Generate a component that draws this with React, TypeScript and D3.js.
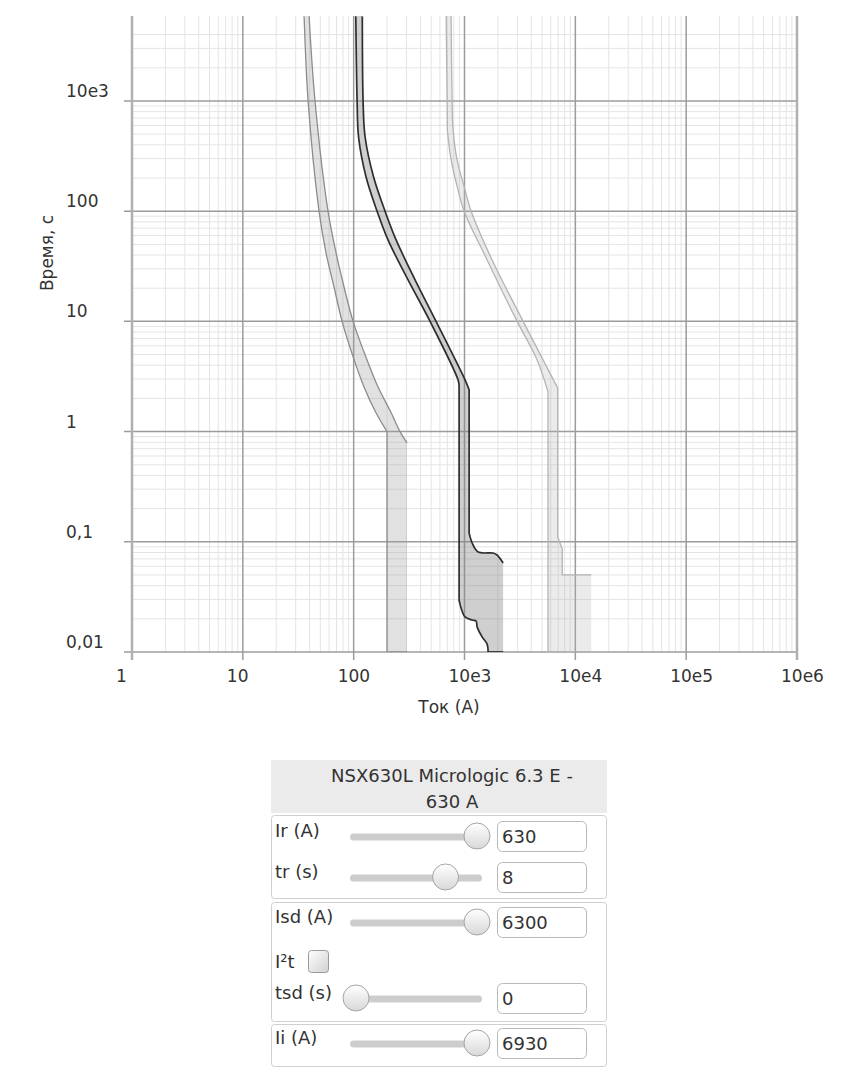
import * as d3 from "d3";

// axis ticks
const xTicks = [1, 10, 100, 1000, 10000, 100000, 1000000];
const xTickLabels = ["1", "10", "100", "10e3", "10e4", "10e5", "10e6"];
const yTicks = [0.01, 0.1, 1, 10, 100, 1000];
const yTickLabels = ["0,01", "0,1", "1", "10", "100", "10e3"];
const yTop = 5900;
const yMinorTop = 4000;

// band 1 (light curve, left)
const b1MinI = [35.7, 38.8, 48.7, 56.3, 66.5, 78.6, 101, 124, 159, 200, 200];
const b1MinT = [5900, 1000, 100, 41.8, 20.5, 10, 4.47, 2.54, 1.48, 1, 0.01];
const b1MaxI = [39.6, 44.8, 58.7, 69.4, 81.9, 98.8, 132, 166, 218, 262, 303];
const b1MaxT = [5900, 1000, 100, 41.8, 20.5, 10, 4.47, 2.54, 1.48, 1, 0.79];

// band 2 (dark curve, middle)
const b2MinI = [104.5, 107.4, 110.7, 129.4, 162.6, 204, 309.7, 489, 875, 894, 894, 931, 1012, 1172, 1273, 1300, 1442, 1600, 1633];
const b2MinT = [5900, 1000, 471, 204, 100, 54.8, 23.8, 10, 2.94, 2.59, 0.0296, 0.0251, 0.0208, 0.0195, 0.0191, 0.0169, 0.0137, 0.0118, 0.01];
const b2MaxI = [119.7, 121.6, 126.8, 151.3, 191.9, 241.5, 358, 554, 1012, 1101, 1101, 1172, 1327, 1811, 1968, 2230];
const b2MaxT = [5900, 1000, 471, 204, 100, 54.8, 23.8, 10, 2.94, 2.39, 0.12, 0.0975, 0.0807, 0.0791, 0.0759, 0.0643];

// band 3 (pale curve, right)
const b3MinI = [683, 697, 700, 757, 875, 991, 1600, 2985, 4520, 5670, 5670];
const b3MinT = [5900, 1000, 546, 292, 156, 100, 36.1, 10, 4.47, 2.29, 0.01];
const b3MaxI = [757, 773, 789, 857, 1012, 1148, 1775, 3381, 5117, 6930, 6930, 7620, 7620, 13900];
const b3MaxT = [5900, 1000, 546, 292, 156, 100, 36.1, 10, 4.47, 2.49, 0.111, 0.086, 0.05, 0.05];

// settings panel
const deviceTitle = ["NSX630L Micrologic 6.3 E -", "630 A"];
const ctlLabels = ["Ir (A)", "tr (s)", "Isd (A)", "tsd (s)", "Ii (A)"];
const ctlValues = ["630", "8", "6300", "0", "6930"];
const ctlKnob = [1, 0.74, 1, 0, 1];

const FONT = "'DejaVu Sans', Verdana, sans-serif";
const plot = { left: 132, right: 797, top: 16, bottom: 652 };

const x = d3.scaleLog().domain([1, 1e6]).range([plot.left, plot.right]);
const y = d3.scaleLog().domain([0.01, yTop]).range([plot.bottom, plot.top]);

const xMinor = xTicks.slice(0, -1).flatMap((d) => d3.range(2, 10).map((k) => d * k));
const yMinor = yTicks.flatMap((d) => d3.range(2, 10).map((k) => d * k)).filter((v) => v <= yMinorTop);

type Pt = [number, number];
const smooth = d3.line<Pt>().curve(d3.curveCatmullRom.alpha(0.5));

const toPts = (I: number[], T: number[]): Pt[] => I.map((v, i) => [x(v), y(T[i])]);

// straight for vertical / horizontal pieces, smooth for the rest
function pathOf(pts: Pt[], start = "M"): string {
  let d = `${start}${pts[0][0]},${pts[0][1]}`;
  let run: Pt[] = [pts[0]];
  const flush = () => {
    if (run.length > 1) d += (smooth(run) ?? "").replace(/^M[^CL]*/, "");
  };
  for (let i = 1; i < pts.length; i++) {
    const a = pts[i - 1], b = pts[i];
    if (Math.abs(a[0] - b[0]) < 0.5 || Math.abs(a[1] - b[1]) < 0.5) {
      flush();
      d += `L${b[0]},${b[1]}`;
      run = [b];
    } else run.push(b);
  }
  flush();
  return d;
}

const bands = [
  { minI: b1MinI, minT: b1MinT, maxI: b1MaxI, maxT: b1MaxT, stroke: "#8c8c8c", width: 1.3, fill: "#9a9a9a", op: 0.3 },
  { minI: b2MinI, minT: b2MinT, maxI: b2MaxI, maxT: b2MaxT, stroke: "#2e2e2e", width: 1.7, fill: "#808080", op: 0.38 },
  { minI: b3MinI, minT: b3MinT, maxI: b3MaxI, maxT: b3MaxT, stroke: "#b4b4b4", width: 1.3, fill: "#b0b0b0", op: 0.25 },
];

function Band({ b }: { b: (typeof bands)[number] }) {
  const lo = toPts(b.minI, b.minT);
  const hi = toPts(b.maxI, b.maxT);
  const hiEnd = hi[hi.length - 1];
  const hiFull: Pt[] = [...hi, [hiEnd[0], y(0.01)]];
  const fillD = pathOf(lo) + pathOf([...hiFull].reverse(), "L") + "Z";
  const loEnd = lo[lo.length - 1];
  return (
    <g>
      <path d={fillD} fill={b.fill} fillOpacity={b.op} stroke="none" />
      <path d={pathOf(lo)} fill="none" stroke={b.stroke} strokeWidth={b.width} />
      <path d={pathOf(hi)} fill="none" stroke={b.stroke} strokeWidth={b.width} />
      <line x1={loEnd[0]} x2={hiEnd[0]} y1={y(0.01)} y2={y(0.01)} stroke={b.stroke} strokeWidth={b.width} />
    </g>
  );
}

function Panel() {
  const left = 271, right = 607;
  const rowY = [836, 877, 922, 998, 1043];
  const knob = d3.scaleLinear().domain([0, 1]).range([356, 477]);
  const groups = [
    [815, 898],
    [902, 1021],
    [1024, 1066],
  ];
  return (
    <g fontFamily={FONT} fontSize={18} fill="#333">
      <defs>
        <linearGradient id="knobGrad" x1="0" y1="0" x2="0" y2="1">
          <stop offset="0" stopColor="#ffffff" />
          <stop offset="1" stopColor="#d8d8d8" />
        </linearGradient>
        <linearGradient id="cbGrad" x1="0" y1="0" x2="1" y2="1">
          <stop offset="0" stopColor="#ffffff" />
          <stop offset="1" stopColor="#d0d0d0" />
        </linearGradient>
      </defs>
      <rect x={left} y={760} width={right - left} height={53} fill="#ebebeb" />
      {deviceTitle.map((t, i) => (
        <text key={t} x={452} y={782 + i * 26} textAnchor="middle">{t}</text>
      ))}
      {groups.map(([a, b]) => (
        <rect key={a} x={left + 0.5} y={a + 0.5} width={right - left - 1} height={b - a} rx={3} fill="#fff" stroke="#cfcfcf" />
      ))}
      {ctlLabels.map((lab, i) => {
        const cy = rowY[i];
        return (
          <g key={lab}>
            <text x={275} y={cy + 1}>{lab}</text>
            <rect x={350} y={cy - 2.5} width={132} height={7} rx={3.5} fill="#cdcdcd" />
            <circle cx={knob(ctlKnob[i])} cy={cy} r={13} fill="url(#knobGrad)" stroke="#a5a5a5" />
            <rect x={497.5} y={cy - 14.5} width={89} height={30} rx={5} fill="#fff" stroke="#b8b8b8" />
            <text x={502} y={cy + 7}>{ctlValues[i]}</text>
          </g>
        );
      })}
      <text x={275} y={968}>I²t</text>
      <rect x={308.5} y={950.5} width={20} height={22} rx={3} fill="url(#cbGrad)" stroke="#9a9a9a" />
    </g>
  );
}

export default function App() {
  return (
    <svg
      width={852}
      height={1080}
      style={{ position: "absolute", left: 0, top: 0, background: "#fff" }}
      fontFamily={FONT}
    >
      <defs>
        <clipPath id="plotClip">
          <rect x={plot.left} y={plot.top} width={plot.right - plot.left} height={plot.bottom - plot.top} />
        </clipPath>
      </defs>

      {/* minor grid */}
      <g stroke="#e4e4e4" strokeWidth={1}>
        {xMinor.map((v) => (
          <line key={"xm" + v} x1={x(v)} x2={x(v)} y1={plot.top} y2={plot.bottom} />
        ))}
        {yMinor.map((v) => (
          <line key={"ym" + v} x1={plot.left} x2={plot.right} y1={y(v)} y2={y(v)} />
        ))}
      </g>

      {/* major grid with ticks */}
      <g stroke="#9c9c9c" strokeWidth={1.5}>
        {xTicks.map((v) => (
          <line key={"xM" + v} x1={x(v)} x2={x(v)} y1={plot.top} y2={plot.bottom + 8} />
        ))}
        {yTicks.map((v) => (
          <line key={"yM" + v} x1={plot.left - 8} x2={plot.right} y1={y(v)} y2={y(v)} />
        ))}
      </g>
      <line x1={plot.left} x2={plot.left} y1={plot.top} y2={plot.bottom + 8} stroke="#b0b0b0" strokeWidth={2.5} />
      <line x1={plot.right} x2={plot.right} y1={plot.top} y2={plot.bottom + 8} stroke="#b0b0b0" strokeWidth={2.5} />

      <g clipPath="url(#plotClip)">
        {bands.map((b, i) => (
          <Band key={i} b={b} />
        ))}
      </g>

      {/* tick labels */}
      <g fontSize={17} fill="#333">
        {xTicks.map((v, i) => (
          <text key={"xl" + v} x={x(v) - 16} y={plot.bottom + 30}>{xTickLabels[i]}</text>
        ))}
        {yTicks.map((v, i) => (
          <text key={"yl" + v} x={66} y={y(v) - 4}>{yTickLabels[i]}</text>
        ))}
        <text x={449} y={713} textAnchor="middle">Ток (А)</text>
        <text transform="translate(53,253) rotate(-90)" textAnchor="middle">Время, с</text>
      </g>

      <Panel />
    </svg>
  );
}
